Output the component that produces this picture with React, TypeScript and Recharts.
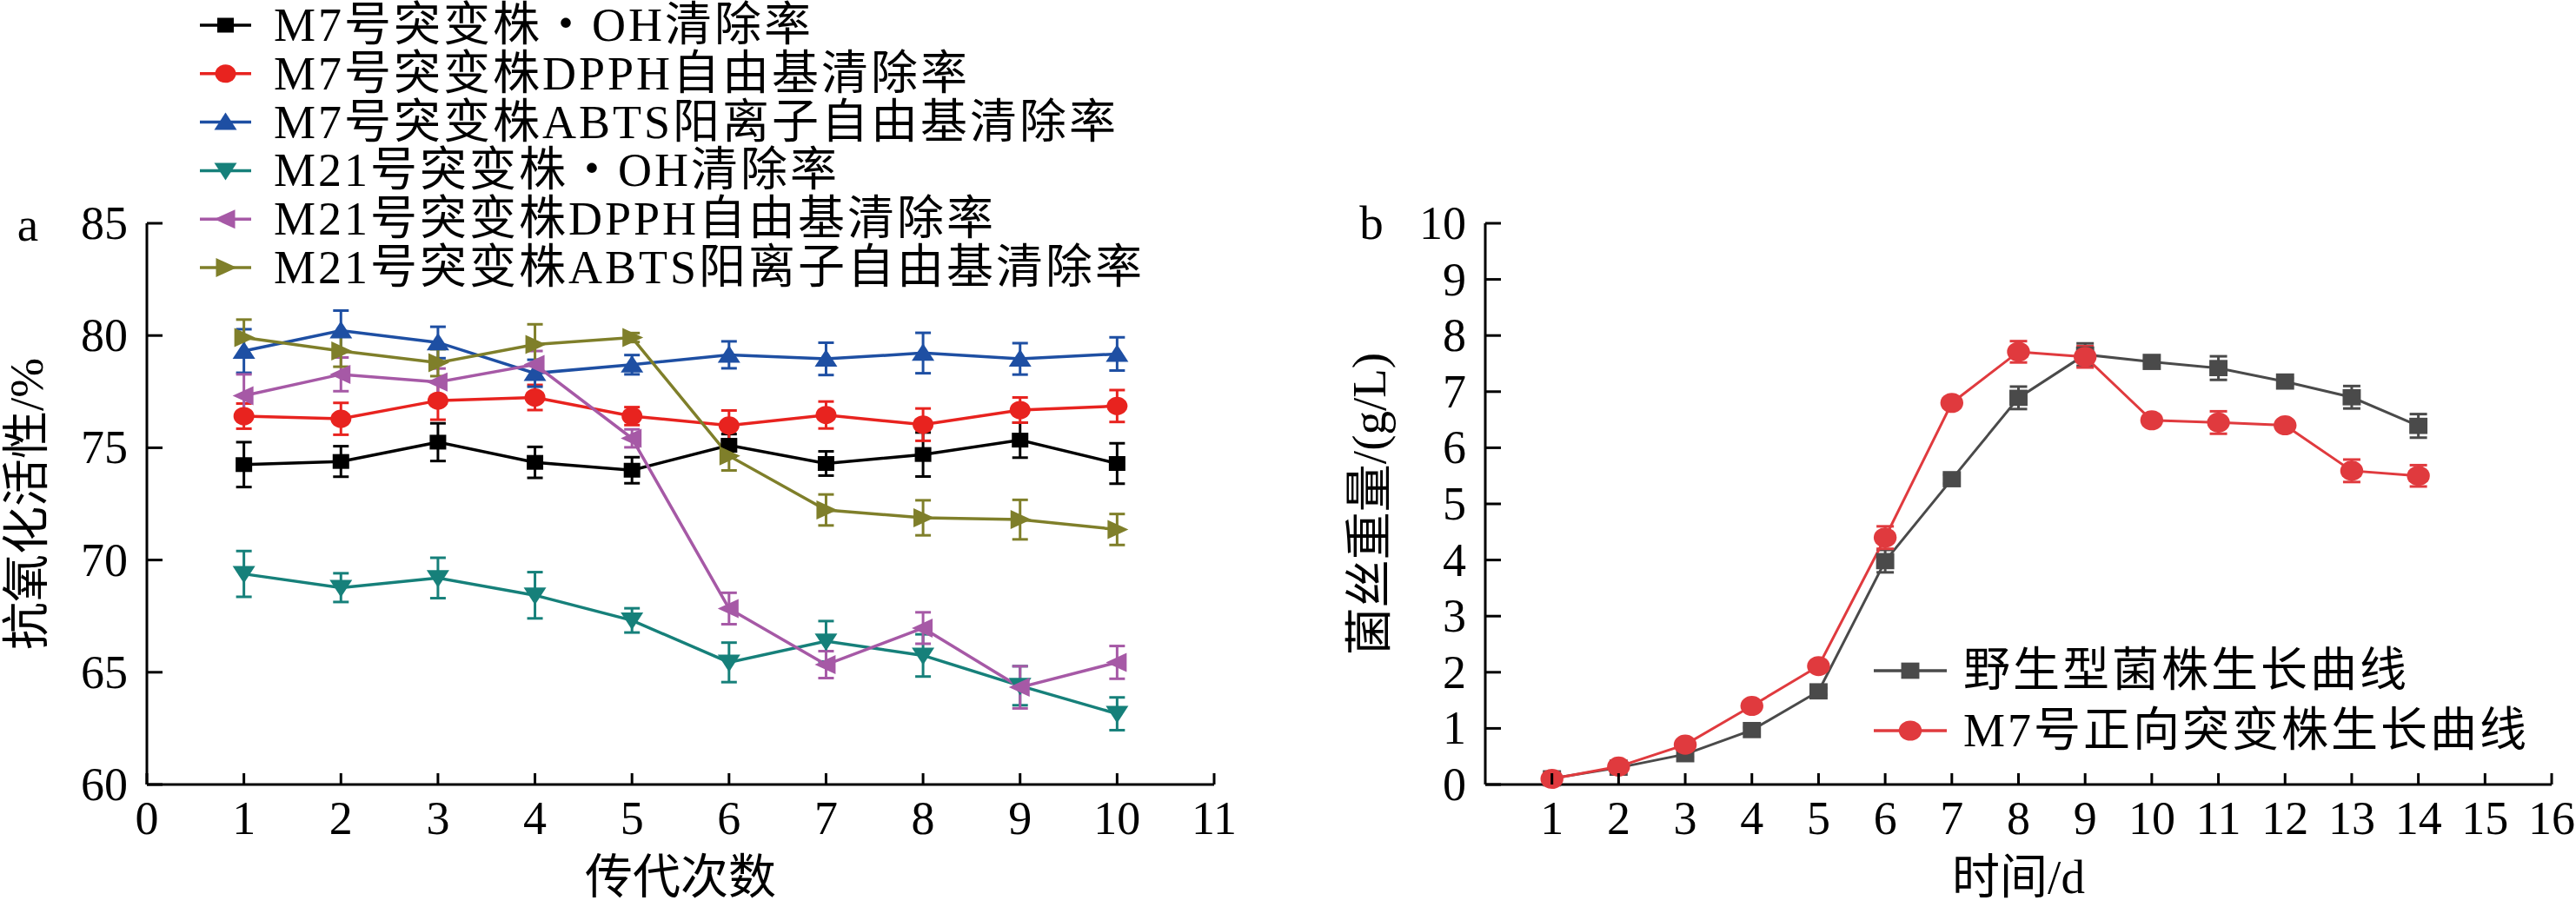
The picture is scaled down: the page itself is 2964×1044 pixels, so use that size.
import React from 'react';
import { LineChart, Line, XAxis, YAxis, ErrorBar, Legend, Label } from 'recharts';

const FONT = "'Liberation Serif', 'Noto Sans CJK SC', serif";

// ---------- Panel a : antioxidant activity over generations ----------
const generations = [1, 2, 3, 4, 5, 6, 7, 8, 9, 10];
const leftXTicks = [0, 1, 2, 3, 4, 5, 6, 7, 8, 9, 10, 11];
const leftYTicks = [60, 65, 70, 75, 80, 85];

const m7OH = [74.25, 74.39, 75.25, 74.35, 74.0, 75.11, 74.3, 74.7, 75.34, 74.3];
const m7OHErr = [1.0, 0.68, 0.84, 0.69, 0.58, 0.5, 0.54, 0.98, 0.78, 0.9];
const m7DPPH = [76.41, 76.29, 77.1, 77.24, 76.41, 75.99, 76.46, 76.03, 76.68, 76.86];
const m7DPPHErr = [0.56, 0.71, 0.85, 0.56, 0.4, 0.67, 0.6, 0.72, 0.56, 0.71];
const m7ABTS = [79.31, 80.22, 79.69, 78.32, 78.7, 79.14, 78.96, 79.22, 78.96, 79.18];
const m7ABTSErr = [0.97, 0.89, 0.7, 0.6, 0.43, 0.6, 0.72, 0.9, 0.7, 0.74];
const m21OH = [69.38, 68.77, 69.2, 68.43, 67.31, 65.44, 66.38, 65.75, 64.4, 63.15];
const m21OHErr = [1.02, 0.64, 0.9, 1.03, 0.54, 0.88, 0.9, 0.94, 0.87, 0.73];
const m21DPPH = [77.32, 78.27, 77.93, 78.71, 75.42, 67.84, 65.34, 66.97, 64.33, 65.44];
const m21DPPHErr = [0.95, 0.75, 0.6, 0.6, 0.4, 0.7, 0.6, 0.7, 0.94, 0.73];
const m21ABTS = [79.91, 79.31, 78.79, 79.6, 79.91, 74.64, 72.23, 71.88, 71.8, 71.36];
const m21ABTSErr = [0.8, 0.7, 0.6, 0.9, 0.2, 0.65, 0.69, 0.78, 0.88, 0.69];

const leftNames = [
  'M7号突变株・OH清除率',
  'M7号突变株DPPH自由基清除率',
  'M7号突变株ABTS阳离子自由基清除率',
  'M21号突变株・OH清除率',
  'M21号突变株DPPH自由基清除率',
  'M21号突变株ABTS阳离子自由基清除率',
];
const leftColors = ['#000000', '#e8231f', '#1e4fa3', '#16807a', '#a659a6', '#7f7f2a'];
const leftShapes = ['square', 'circle', 'up', 'down', 'left', 'right'];
const leftValues = [m7OH, m7DPPH, m7ABTS, m21OH, m21DPPH, m21ABTS];
const leftErrors = [m7OHErr, m7DPPHErr, m7ABTSErr, m21OHErr, m21DPPHErr, m21ABTSErr];

const leftData = generations.map((g, i) => {
  const row: any = { g };
  leftValues.forEach((vals, k) => {
    row['s' + k] = vals[i];
    row['e' + k] = leftErrors[k][i];
  });
  return row;
});

// ---------- Panel b : growth curves ----------
const days = [1, 2, 3, 4, 5, 6, 7, 8, 9, 10, 11, 12, 13, 14];
const rightXTicks = [1, 2, 3, 4, 5, 6, 7, 8, 9, 10, 11, 12, 13, 14, 15, 16];
const rightYTicks = [0, 1, 2, 3, 4, 5, 6, 7, 8, 9, 10];

const wildGrowth = [0.11, 0.3, 0.54, 0.97, 1.66, 3.98, 5.44, 6.89, 7.66, 7.53, 7.42, 7.18, 6.9, 6.39];
const wildGrowthErr = [0.03, 0.04, 0.05, 0.05, 0.06, 0.2, 0.08, 0.2, 0.2, 0.05, 0.21, 0.06, 0.2, 0.21];
const m7Growth = [0.1, 0.32, 0.71, 1.4, 2.11, 4.4, 6.8, 7.71, 7.62, 6.49, 6.45, 6.4, 5.59, 5.5];
const m7GrowthErr = [0.03, 0.04, 0.05, 0.05, 0.06, 0.2, 0.05, 0.19, 0.19, 0.05, 0.2, 0.05, 0.2, 0.19];

const rightNames = ['野生型菌株生长曲线', 'M7号正向突变株生长曲线'];
const rightColors = ['#4a4a4a', '#e03a3e'];
const rightShapes = ['square', 'circle'];

const rightData = days.map((d, i) => ({
  d,
  w: wildGrowth[i],
  we: wildGrowthErr[i],
  m: m7Growth[i],
  me: m7GrowthErr[i],
}));

// ---------- drawing helpers ----------
function Marker({ shape, cx, cy, color, big }: any) {
  if (cx == null || cy == null) return null;
  const k = big ? 1.1 : 1;
  switch (shape) {
    case 'square':
      return <rect x={cx - 9.5 * k} y={cy - 8.5 * k} width={19 * k} height={17 * k} fill={color} />;
    case 'circle':
      return <ellipse cx={cx} cy={cy} rx={12 * k} ry={10.5 * k} fill={color} />;
    case 'up':
      return <polygon points={`${cx},${cy - 11} ${cx + 13},${cy + 9} ${cx - 13},${cy + 9}`} fill={color} />;
    case 'down':
      return <polygon points={`${cx - 13},${cy - 9} ${cx + 13},${cy - 9} ${cx},${cy + 11}`} fill={color} />;
    case 'left':
      return <polygon points={`${cx - 13},${cy} ${cx + 11},${cy - 11} ${cx + 11},${cy + 11}`} fill={color} />;
    case 'right':
      return <polygon points={`${cx + 13},${cy} ${cx - 11},${cy - 11} ${cx - 11},${cy + 11}`} fill={color} />;
    default:
      return null;
  }
}

const YTick = (props: any) => {
  const { x, y, payload } = props;
  return (
    <g>
      <line x1={x} x2={x + 18} y1={y} y2={y} stroke="#000" strokeWidth={3} />
      <text x={x - 22} y={y} textAnchor="end" dominantBaseline="central" fontSize={54} fontFamily={FONT} fill="#000">
        {payload.value}
      </text>
    </g>
  );
};

const XTick = (props: any) => {
  const { x, y, payload } = props;
  return (
    <g>
      <line x1={x} x2={x} y1={y} y2={y - 13} stroke="#000" strokeWidth={3} />
      <text x={x} y={y + 57} textAnchor="middle" fontSize={54} fontFamily={FONT} fill="#000">
        {payload.value}
      </text>
    </g>
  );
};

const makeLegend = (names: string[], colors: string[], shapes: string[], rowGap: number, lineLen: number, textX: number, firstY: number, big: boolean) => () => (
  <svg width={1300} height={firstY * 2 + rowGap * names.length} style={{ overflow: 'visible' }}>
    {names.map((n, i) => (
      <g key={n} transform={`translate(0, ${firstY + i * rowGap})`}>
        <line x1={0} x2={lineLen} y1={0} y2={0} stroke={colors[i]} strokeWidth={3.5} />
        <Marker shape={shapes[i]} cx={lineLen / 2} cy={0} color={colors[i]} big={big} />
        <text x={textX} y={0} dominantBaseline="central" fontSize={54} letterSpacing={3} fontFamily={FONT} fill="#000">
          {n}
        </text>
      </g>
    ))}
  </svg>
);

const LeftLegend = makeLegend(leftNames, leftColors, leftShapes, 55.8, 59, 85, 29, false);
const RightLegend = makeLegend(rightNames, rightColors, rightShapes, 69, 84, 103, 32, true);

const yLabel = (text: string, dx: number) => (props: any) => {
  const vb = props.viewBox || { x: 0, y: 257, width: 0, height: 646 };
  const x = vb.x + vb.width - dx;
  const y = vb.y + vb.height / 2;
  return (
    <text x={x} y={y} transform={`rotate(-90, ${x}, ${y})`} textAnchor="middle" dominantBaseline="central" fontSize={55} fontFamily={FONT} fill="#000">
      {text}
    </text>
  );
};

const panelLetter = (text: string, dx: number, dy: number) => (props: any) => {
  const vb = props.viewBox || { x: 0, y: 257, width: 0, height: 646 };
  return (
    <text x={vb.x + vb.width - dx} y={vb.y + dy} textAnchor="middle" fontSize={55} fontFamily={FONT} fill="#000">
      {text}
    </text>
  );
};

const xLabel = (text: string) => (props: any) => {
  const vb = props.viewBox || { x: 0, y: 903, width: 0, height: 0 };
  return (
    <text x={vb.x + vb.width / 2} y={vb.y + 106} textAnchor="middle" dominantBaseline="central" fontSize={55} fontFamily={FONT} fill="#000">
      {text}
    </text>
  );
};

export default function App() {
  return (
    <div style={{ position: 'absolute', left: 0, top: 0, width: 2964, height: 1044, background: '#fff', fontFamily: FONT }}>
      <div style={{ position: 'absolute', left: 0, top: 0 }}>
        <LineChart width={1470} height={1044} data={leftData} margin={{ top: 257, right: 73, bottom: 41, left: 49 }}>
          <XAxis
            dataKey="g"
            type="number"
            domain={[0, 11]}
            ticks={leftXTicks}
            interval={0}
            height={100}
            tickSize={0}
            tickMargin={0}
            tickLine={false}
            tick={<XTick />}
            axisLine={{ stroke: '#000', strokeWidth: 3 }}
          >
            <Label content={xLabel('传代次数')} />
          </XAxis>
          <YAxis
            type="number"
            domain={[60, 85]}
            ticks={leftYTicks}
            interval={0}
            width={120}
            tickSize={0}
            tickMargin={0}
            tickLine={false}
            tick={<YTick />}
            axisLine={{ stroke: '#000', strokeWidth: 3 }}
          >
            <Label content={yLabel('抗氧化活性/%', 139)} />
            <Label content={panelLetter('a', 137, 20)} />
          </YAxis>
          <Legend
            layout="horizontal"
            verticalAlign="middle"
            align="center"
            content={LeftLegend}
            wrapperStyle={{ left: 230, top: 0, width: 1200, height: 340 }}
          />
          {leftNames.map((n, k) => (
            <Line
              key={n}
              name={n}
              dataKey={'s' + k}
              stroke={leftColors[k]}
              strokeWidth={3.5}
              isAnimationActive={false}
              activeDot={false}
              dot={(p: any) => <Marker key={`l${k}-${p.index}`} shape={leftShapes[k]} cx={p.cx} cy={p.cy} color={leftColors[k]} />}
            >
              <ErrorBar dataKey={'e' + k} direction="y" width={9} strokeWidth={3} stroke={leftColors[k]} isAnimationActive={false} />
            </Line>
          ))}
        </LineChart>
      </div>
      <div style={{ position: 'absolute', left: 1480, top: 0 }}>
        <LineChart width={1484} height={1044} data={rightData} margin={{ top: 257, right: 28, bottom: 41, left: 109 }}>
          <XAxis
            dataKey="d"
            type="number"
            domain={[0, 16]}
            ticks={rightXTicks}
            interval={0}
            height={100}
            tickSize={0}
            tickMargin={0}
            tickLine={false}
            tick={<XTick />}
            axisLine={{ stroke: '#000', strokeWidth: 3 }}
          >
            <Label content={xLabel('时间/d')} />
          </XAxis>
          <YAxis
            type="number"
            domain={[0, 10]}
            ticks={rightYTicks}
            interval={0}
            width={120}
            tickSize={0}
            tickMargin={0}
            tickLine={false}
            tick={<YTick />}
            axisLine={{ stroke: '#000', strokeWidth: 3 }}
          >
            <Label content={yLabel('菌丝重量/(g/L)', 134)} />
            <Label content={panelLetter('b', 131, 18)} />
          </YAxis>
          <Legend
            layout="horizontal"
            verticalAlign="middle"
            align="center"
            content={RightLegend}
            wrapperStyle={{ left: 676, top: 740, width: 800, height: 180 }}
          />
          <Line
            name={rightNames[0]}
            dataKey="w"
            stroke={rightColors[0]}
            strokeWidth={3}
            isAnimationActive={false}
            activeDot={false}
            dot={(p: any) => <Marker key={`w-${p.index}`} shape="square" cx={p.cx} cy={p.cy} color={rightColors[0]} big />}
          >
            <ErrorBar dataKey="we" direction="y" width={10} strokeWidth={3} stroke={rightColors[0]} isAnimationActive={false} />
          </Line>
          <Line
            name={rightNames[1]}
            dataKey="m"
            stroke={rightColors[1]}
            strokeWidth={3}
            isAnimationActive={false}
            activeDot={false}
            dot={(p: any) => <Marker key={`m-${p.index}`} shape="circle" cx={p.cx} cy={p.cy} color={rightColors[1]} big />}
          >
            <ErrorBar dataKey="me" direction="y" width={10} strokeWidth={3} stroke={rightColors[1]} isAnimationActive={false} />
          </Line>
        </LineChart>
      </div>
    </div>
  );
}
